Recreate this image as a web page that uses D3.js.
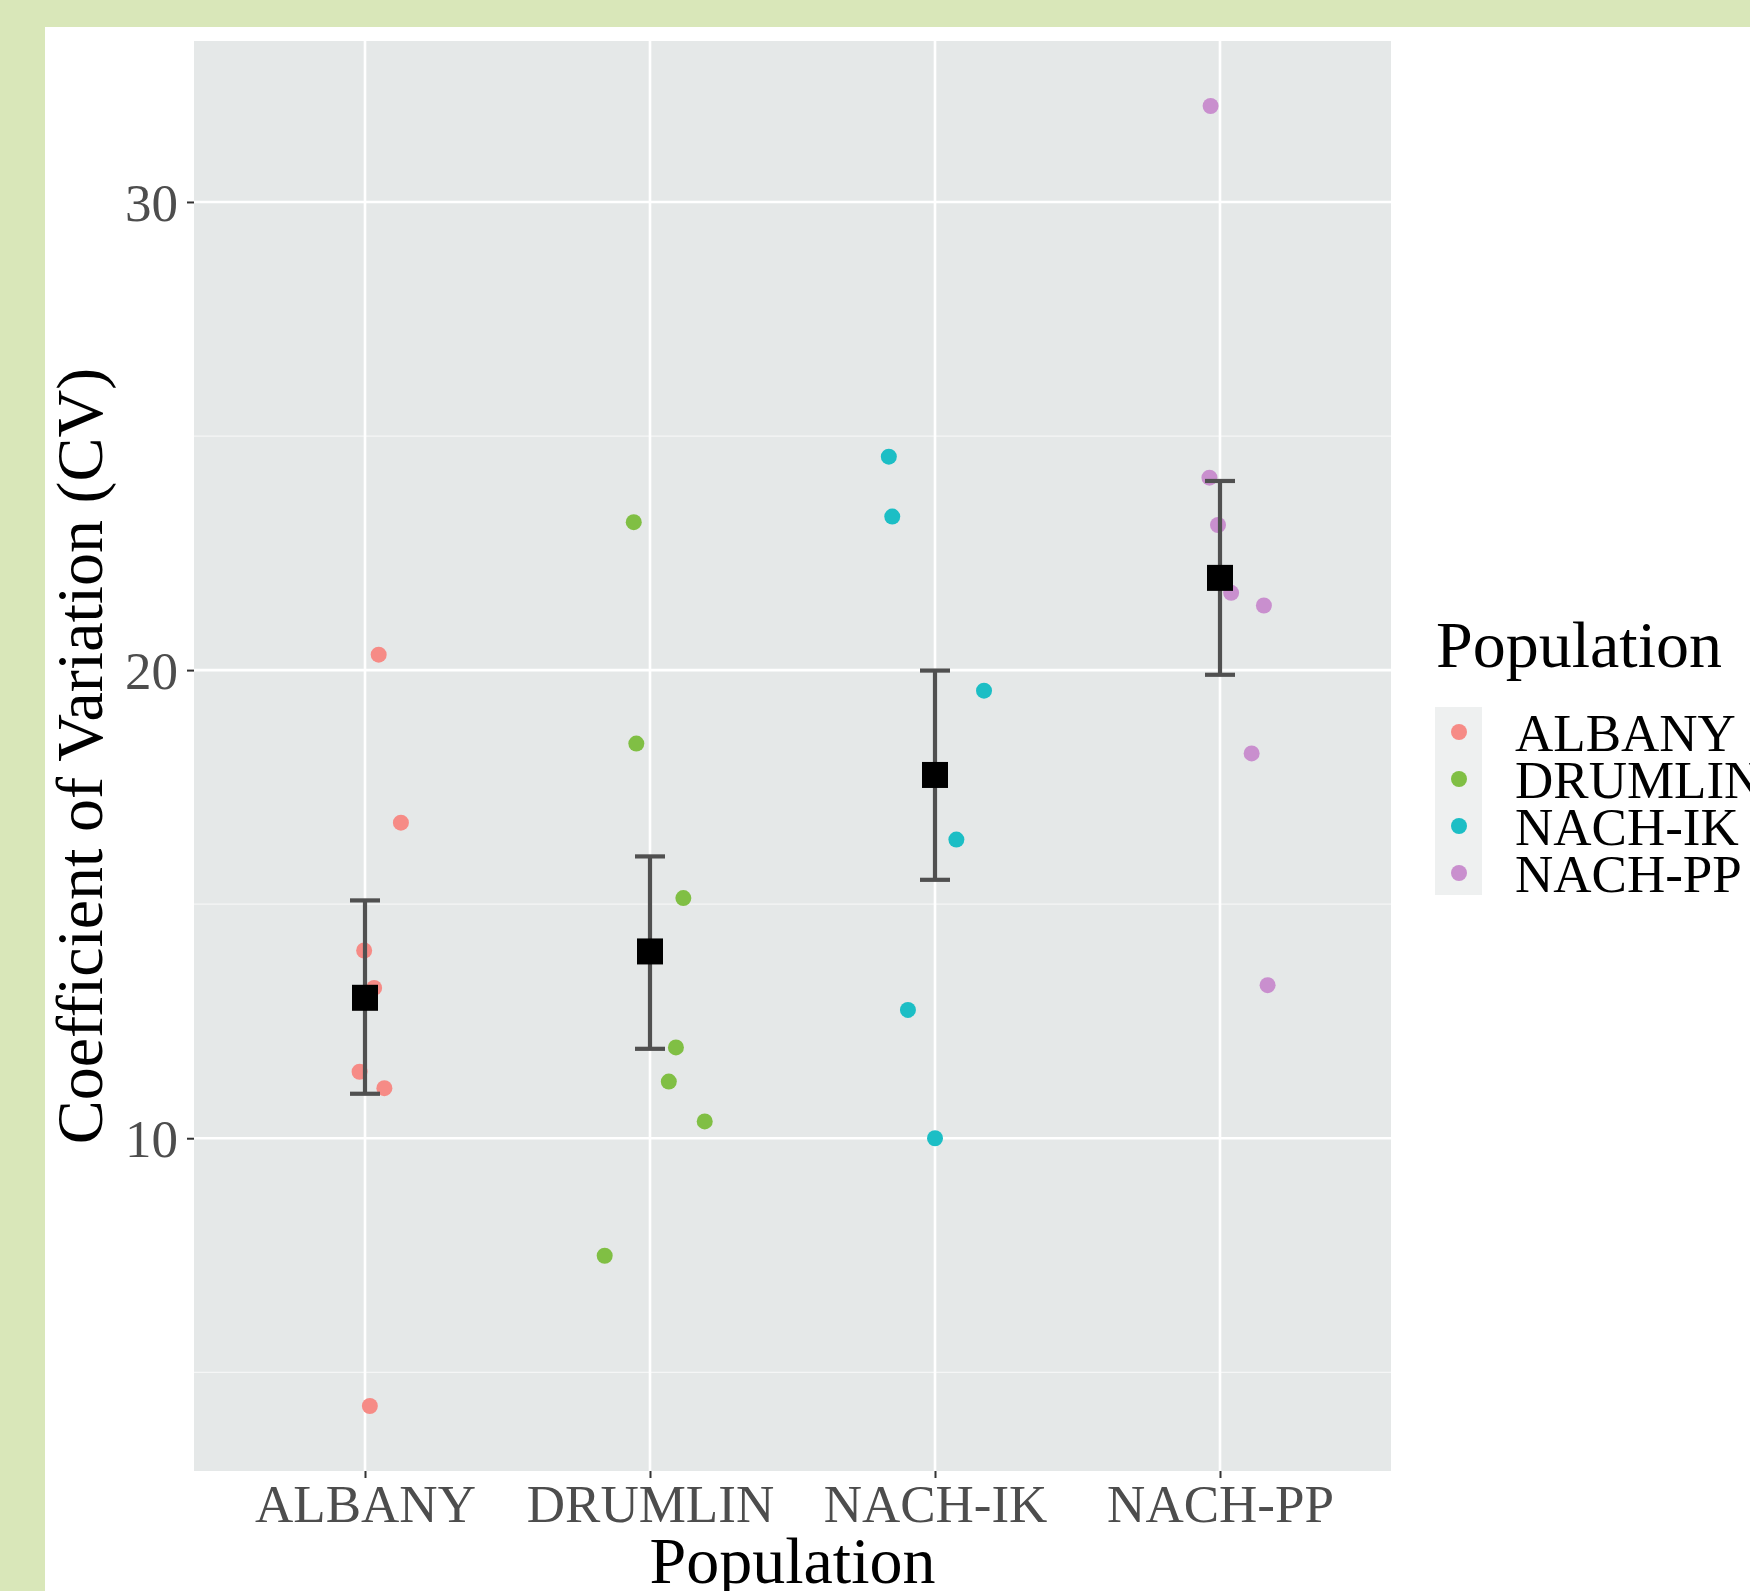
<!DOCTYPE html>
<html><head><meta charset="utf-8">
<script src="https://cdn.jsdelivr.net/npm/d3@7"></script>
<style>body{margin:0;padding:0;background:#fff;} svg{display:block;} text{font-family:"Liberation Serif","Times New Roman",serif;}</style>
</head><body>
<script>
// ---- data ----
const categories = ["ALBANY", "DRUMLIN", "NACH-IK", "NACH-PP"];
const colors = ["#f68b86", "#80bf44", "#1cbec5", "#c98fce"];
const albanyCV  = [20.33, 16.74, 14.01, 13.21, 11.42, 11.07, 4.28];
const albanyJit = [0.048, 0.126, -0.003, 0.032, -0.019, 0.068, 0.017];
const drumlinCV  = [23.16, 18.43, 15.13, 11.94, 11.21, 10.36, 7.49];
const drumlinJit = [-0.057, -0.048, 0.117, 0.091, 0.066, 0.192, -0.159];
const nachIkCV  = [24.56, 23.28, 19.56, 16.38, 12.74, 10.0];
const nachIkJit = [-0.162, -0.150, 0.172, 0.075, -0.095, 0.0];
const nachPpCV  = [32.05, 24.11, 23.1, 21.65, 21.38, 18.22, 13.27];
const nachPpJit = [-0.033, -0.037, -0.007, 0.039, 0.154, 0.111, 0.167];
const meanCV  = [13.0, 13.99, 17.76, 21.97];
const lowerCV = [10.95, 11.91, 15.52, 19.9];
const upperCV = [15.08, 16.02, 19.99, 24.04];
const yTicks = [10, 20, 30];
const yMinorTicks = [5, 15, 25];
const xTitle = "Population";
const yTitle = "Coefficient of Variation (CV)";
const legendTitle = "Population";

const groups = [
  {cat: categories[0], cv: albanyCV, jit: albanyJit},
  {cat: categories[1], cv: drumlinCV, jit: drumlinJit},
  {cat: categories[2], cv: nachIkCV, jit: nachIkJit},
  {cat: categories[3], cv: nachPpCV, jit: nachPpJit}
];
const points = [];
groups.forEach((g, gi) => g.cv.forEach((v, i) => points.push({cat: g.cat, gi, v, j: g.jit[i]})));

// ---- layout ----
const W = 1750, H = 1591;
const P = {left: 194, right: 1391, top: 41, bottom: 1471};

const svg = d3.select("body").append("svg").attr("width", W).attr("height", H);
svg.append("rect").attr("width", W).attr("height", H).attr("fill", "#d9e7b9");
svg.append("rect").attr("x", 45).attr("y", 27).attr("width", W - 45).attr("height", H - 27).attr("fill", "#ffffff");

const allVals = points.map(d => d.v).concat(lowerCV, upperCV);
const lo = d3.min(allVals), hi = d3.max(allVals), span = hi - lo;
const y = d3.scaleLinear().domain([lo - 0.05 * span, hi + 0.05 * span]).range([P.bottom, P.top]);
const x = d3.scalePoint().domain(categories).range([P.left, P.right]).padding(0.6);
const step = x.step();
const color = d3.scaleOrdinal().domain(categories).range(colors);

// panel
svg.append("rect").attr("x", P.left).attr("y", P.top).attr("width", P.right - P.left).attr("height", P.bottom - P.top).attr("fill", "#e5e8e8");
// minor grid
svg.append("g").selectAll("line").data(yMinorTicks).join("line")
  .attr("x1", P.left).attr("x2", P.right).attr("y1", d => y(d)).attr("y2", d => y(d))
  .attr("stroke", "#f5f6f6").attr("stroke-width", 1.3);
// major grid
svg.append("g").selectAll("line").data(yTicks).join("line")
  .attr("x1", P.left).attr("x2", P.right).attr("y1", d => y(d)).attr("y2", d => y(d))
  .attr("stroke", "#ffffff").attr("stroke-width", 2.6);
svg.append("g").selectAll("line").data(categories).join("line")
  .attr("x1", d => x(d)).attr("x2", d => x(d)).attr("y1", P.top).attr("y2", P.bottom)
  .attr("stroke", "#ffffff").attr("stroke-width", 2.6);

// points
svg.append("g").selectAll("circle").data(points).join("circle")
  .attr("cx", d => x(d.cat) + d.j * step).attr("cy", d => y(d.v)).attr("r", 8)
  .attr("fill", d => color(d.cat));

// error bars
const eb = svg.append("g").attr("stroke", "#505050").attr("stroke-width", 4.2);
categories.forEach((c, i) => {
  eb.append("line").attr("x1", x(c)).attr("x2", x(c)).attr("y1", y(lowerCV[i])).attr("y2", y(upperCV[i]));
  eb.append("line").attr("x1", x(c) - 15).attr("x2", x(c) + 15).attr("y1", y(lowerCV[i])).attr("y2", y(lowerCV[i]));
  eb.append("line").attr("x1", x(c) - 15).attr("x2", x(c) + 15).attr("y1", y(upperCV[i])).attr("y2", y(upperCV[i]));
});
// means
svg.append("g").selectAll("rect").data(meanCV).join("rect")
  .attr("x", (d, i) => x(categories[i]) - 13).attr("y", d => y(d) - 13)
  .attr("width", 26).attr("height", 26).attr("fill", "#000");

// axes
const yAxis = svg.append("g").attr("transform", `translate(${P.left},0)`)
  .call(d3.axisLeft(y).tickValues(yTicks).tickSize(7).tickPadding(9).tickFormat(d3.format("d")));
yAxis.select(".domain").remove();
yAxis.selectAll(".tick line").attr("stroke", "#333").attr("stroke-width", 2);
yAxis.selectAll(".tick text").attr("fill", "#4d4d4d").attr("font-size", 53).attr("dy", "0.35em")
  .style("font-family", '"Liberation Serif", serif');

const xAxis = svg.append("g").attr("transform", `translate(0,${P.bottom})`)
  .call(d3.axisBottom(x).tickSize(7).tickPadding(8));
xAxis.select(".domain").remove();
xAxis.selectAll(".tick line").attr("stroke", "#333").attr("stroke-width", 2);
xAxis.selectAll(".tick text").attr("fill", "#4d4d4d").attr("font-size", 53).attr("y", 51).attr("dy", 0)
  .style("font-family", '"Liberation Serif", serif');

// titles
svg.append("text").attr("x", (P.left + P.right) / 2).attr("y", 1583).attr("text-anchor", "middle")
  .attr("font-size", 66).attr("fill", "#000").text(xTitle);
svg.append("text").attr("transform", `translate(102,${(P.top + P.bottom) / 2}) rotate(-90)`)
  .attr("text-anchor", "middle").attr("font-size", 66).attr("fill", "#000").text(yTitle);

// legend
const lg = svg.append("g");
lg.append("text").attr("x", 1436).attr("y", 667).attr("font-size", 66).attr("fill", "#000").text(legendTitle);
lg.append("rect").attr("x", 1435).attr("y", 707).attr("width", 47).attr("height", 188).attr("fill", "#eef0f0");
const ky = d3.scalePoint().domain(categories).range([732, 873]);
lg.selectAll("circle").data(categories).join("circle")
  .attr("cx", 1459).attr("cy", d => ky(d)).attr("r", 8).attr("fill", d => color(d));
lg.selectAll("text.lab").data(categories).join("text").attr("class", "lab")
  .attr("x", 1515).attr("y", d => ky(d) + 19).attr("font-size", 53).attr("fill", "#000").text(d => d);
</script>
</body></html>
